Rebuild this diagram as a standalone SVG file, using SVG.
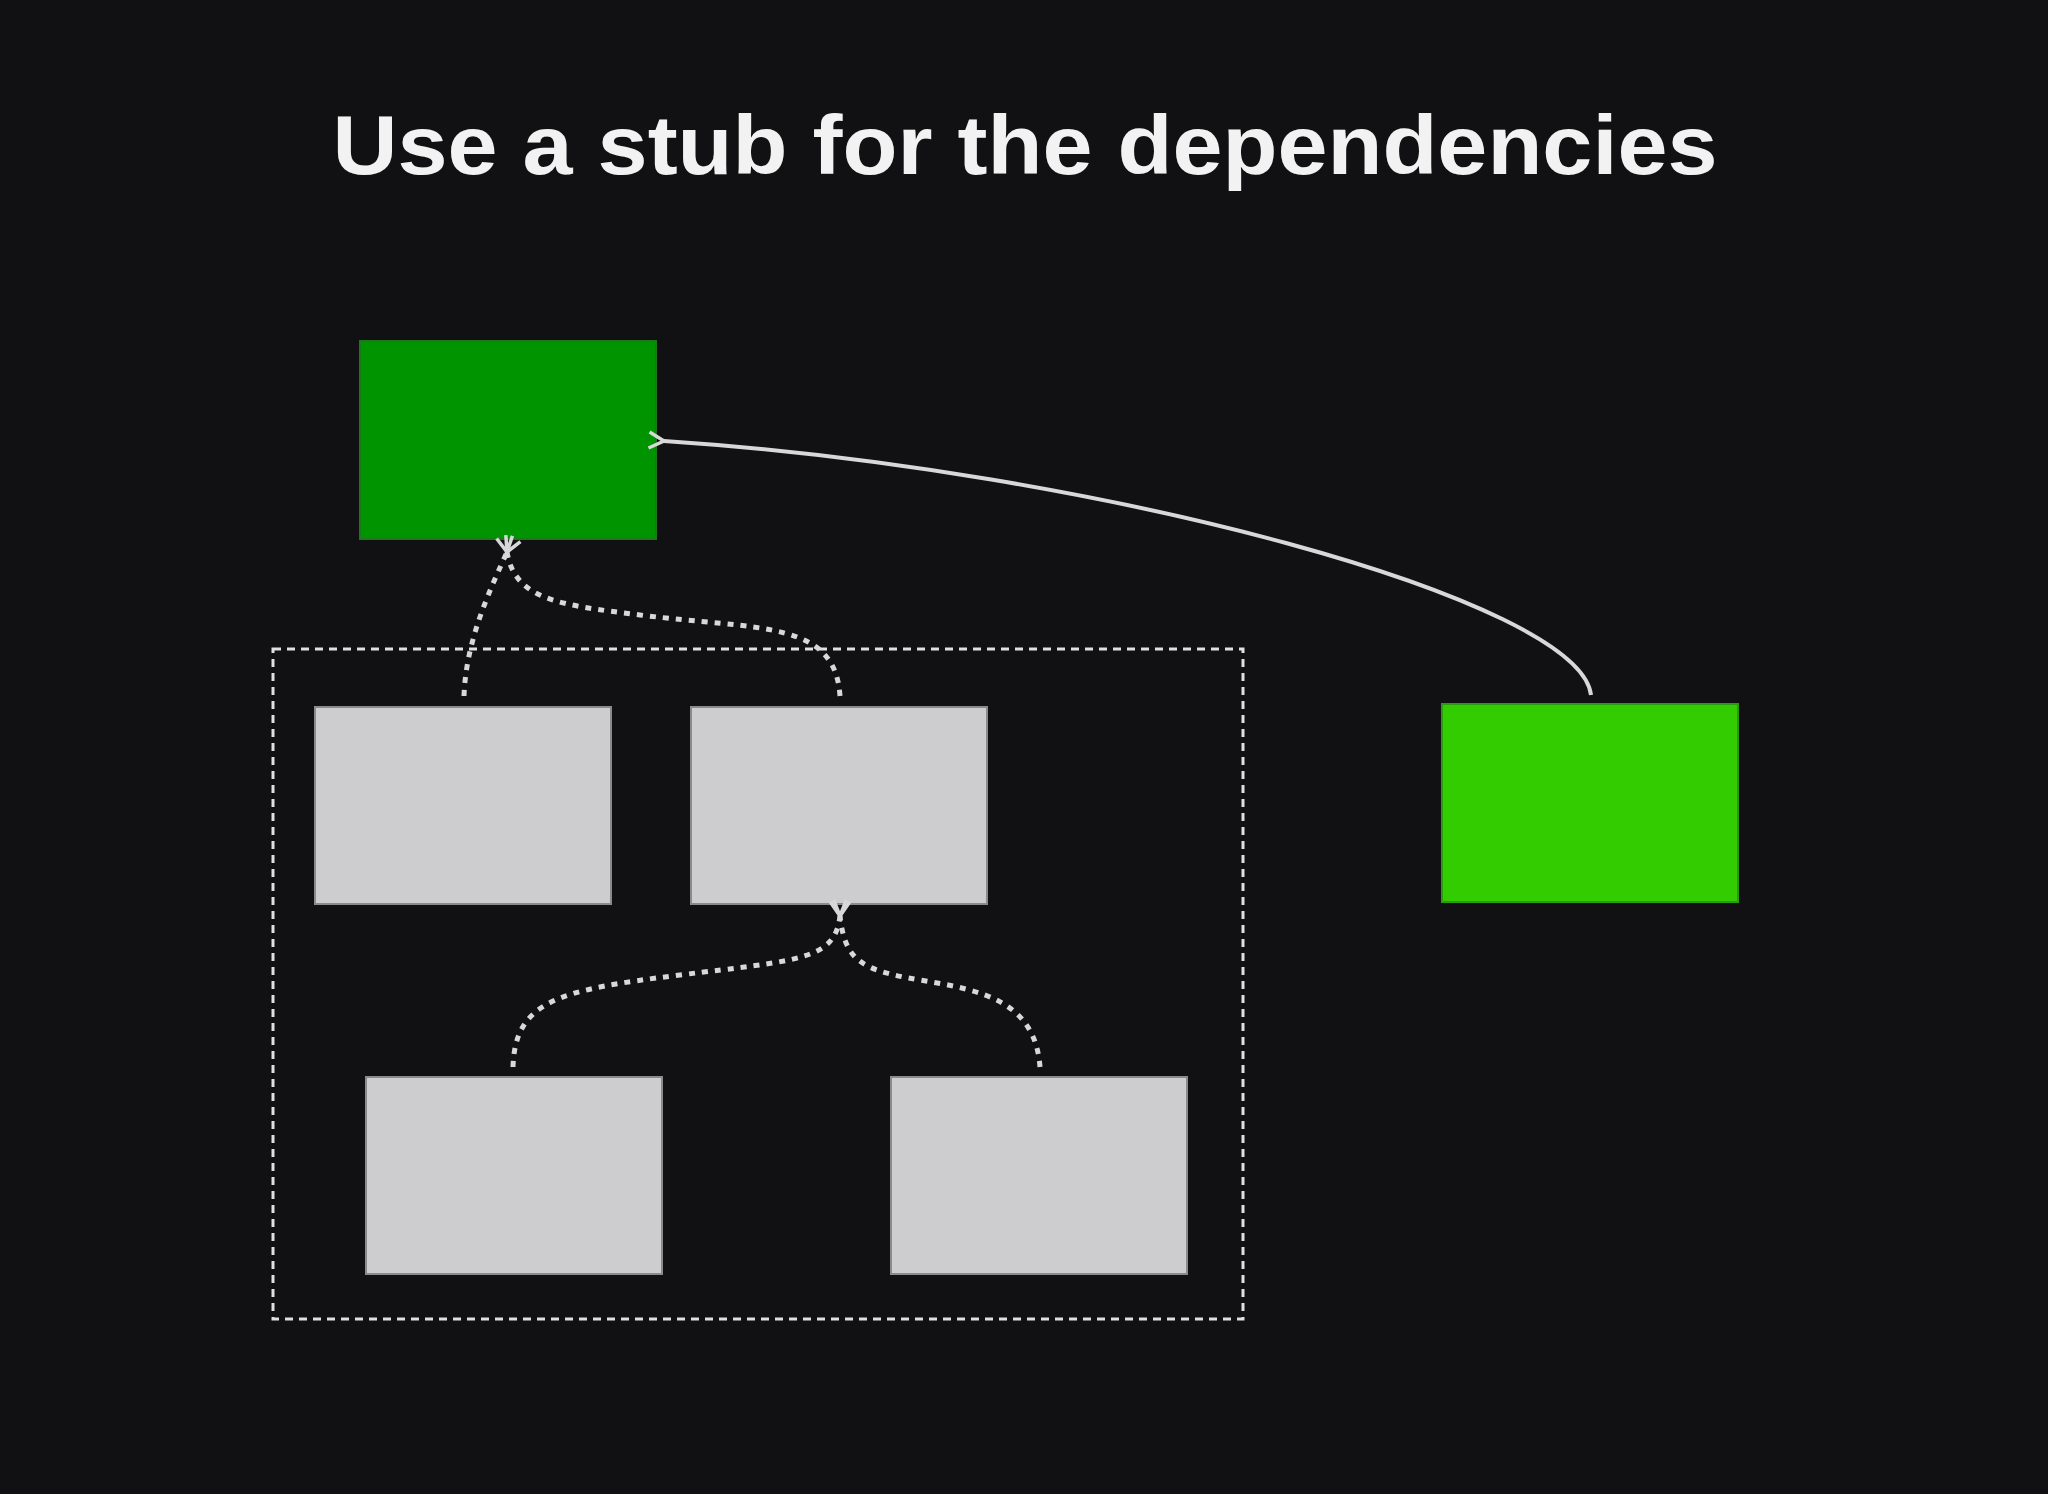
<svg xmlns="http://www.w3.org/2000/svg" width="2048" height="1494" viewBox="0 0 2048 1494">
<style>
.g{fill:#cdcdcf;stroke:#8a8a8c;stroke-width:2}
.dot{fill:none;stroke:#d8d8d8;stroke-width:5;stroke-dasharray:6 7}
.sol{fill:none;stroke:#d8d8d8;stroke-width:4}
</style>
<defs>
<marker id="ah" viewBox="0 0 20 20" refX="3" refY="10" markerWidth="20" markerHeight="20" markerUnits="userSpaceOnUse" orient="auto-start-reverse">
<path d="M18,2 L3,10 L18,18" fill="none" stroke="#d8d8d8" stroke-width="3.5"/>
</marker>
</defs>
<rect width="2048" height="1494" fill="#111113"/>
<text x="1025" y="174" text-anchor="middle" font-family="Liberation Sans, Arial, sans-serif" font-weight="bold" font-size="84" fill="#f2f2f2" textLength="1385" lengthAdjust="spacingAndGlyphs">Use a stub for the dependencies</text>
<g id="container"><rect x="273" y="649" width="970" height="670" fill="none" stroke="#e0e0e0" stroke-width="3" stroke-dasharray="8 6"/></g>
<g id="stub"><rect x="360" y="341" width="296" height="198" fill="#009400" stroke="#1a7a1a" stroke-width="2"/></g>
<g id="test"><rect x="1442" y="704" width="296" height="198" fill="#33cc00" stroke="#2a9a10" stroke-width="2"/></g>
<g id="dep1"><rect class="g" x="315" y="707" width="296" height="197"/></g>
<g id="dep2"><rect class="g" x="691" y="707" width="296" height="197"/></g>
<g id="dep3"><rect class="g" x="366" y="1077" width="296" height="197"/></g>
<g id="dep4"><rect class="g" x="891" y="1077" width="296" height="197"/></g>
<g id="connectors">
<path class="sol" d="M1591,695 C1580,600 1100,470 664,441" marker-end="url(#ah)"/>
<path class="dot" d="M464,696 C466,640 490,590 507,552" marker-end="url(#ah)"/>
<path class="dot" d="M840,696 C835,620 760,630 640,615 C560,605 515,600 507,552" marker-end="url(#ah)"/>
<path class="dot" d="M513,1067 C515,1000 560,990 680,975 C800,960 835,960 840,916" marker-end="url(#ah)"/>
<path class="dot" d="M1040,1067 C1035,1000 980,990 920,980 C860,970 845,960 840,916" marker-end="url(#ah)"/>
</g>
</svg>
